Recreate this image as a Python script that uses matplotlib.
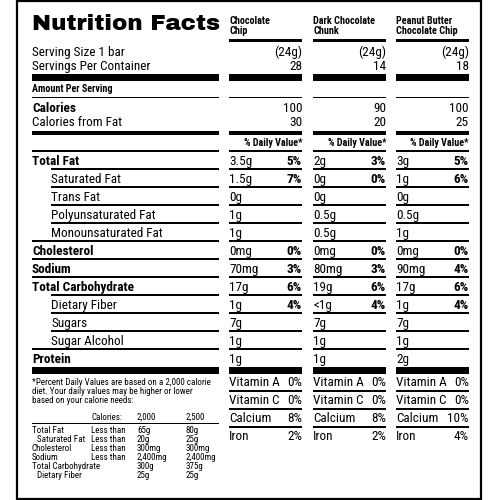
import matplotlib
matplotlib.use("Agg")
import matplotlib.pyplot as plt
from matplotlib import font_manager as fm
from matplotlib.patches import Rectangle

# label data
products = ["Chocolate\nChip", "Dark Chocolate\nChunk", "Peanut Butter\nChocolate Chip"]
serving_size = ["(24g)", "(24g)", "(24g)"]
servings = ["28", "14", "18"]
calories = ["100", "90", "100"]
calories_fat = ["30", "20", "25"]

nutrients = ["Total Fat", "Saturated Fat", "Trans Fat", "Polyunsaturated Fat",
             "Monounsaturated Fat", "Cholesterol", "Sodium", "Total Carbohydrate",
             "Dietary Fiber", "Sugars", "Sugar Alcohol", "Protein"]
main_row = [True, False, False, False, False, True, True, True, False, False, False, True]
amounts = [
    ["3.5g", "1.5g", "0g", "1g", "1g", "0mg", "70mg", "17g", "1g", "7g", "1g", "1g"],
    ["2g", "0g", "0g", "0.5g", "0.5g", "0mg", "80mg", "19g", "<1g", "7g", "1g", "1g"],
    ["3g", "1g", "0g", "0.5g", "1g", "0mg", "90mg", "17g", "1g", "7g", "1g", "2g"],
]
daily = [
    ["5%", "7%", "", "", "", "0%", "3%", "6%", "4%", "", "", ""],
    ["3%", "0%", "", "", "", "0%", "3%", "6%", "4%", "", "", ""],
    ["5%", "6%", "", "", "", "0%", "4%", "6%", "4%", "", "", ""],
]
vitamins = ["Vitamin A", "Vitamin C", "Calcium", "Iron"]
vitamin_dv = [["0%", "0%", "8%", "2%"],
              ["0%", "0%", "8%", "2%"],
              ["0%", "0%", "10%", "4%"]]

footnote = ["*Percent Daily Values are based on a 2,000 calorie",
            "diet. Your daily values may be higher or lower",
            "based on your calorie needs:"]
ref_header = ["Calories:", "2,000", "2,500"]
ref_items = ["Total Fat", "Saturated Fat", "Cholesterol", "Sodium",
             "Total Carbohydrate", "Dietary Fiber"]
ref_indent = [False, True, False, False, False, True]
ref_limit = ["Less than", "Less than", "Less than", "Less than", "", ""]
ref_2000 = ["65g", "20g", "300mg", "2,400mg", "300g", "25g"]
ref_2500 = ["80g", "25g", "300mg", "2,400mg", "375g", "25g"]

# fonts: a Helvetica-like narrow face for the body, a black face for the title
names = {f.name for f in fm.fontManager.ttflist}
narrow = next((n for n in ["Nimbus Sans Narrow", "Liberation Sans Narrow", "Roboto Condensed"]
               if n in names), "DejaVu Sans")
heavy = next((n for n in ["Archivo Black", "DejaVu Sans"] if n in names), "DejaVu Sans")

fig = plt.figure(figsize=(5, 5), dpi=100)
ax = fig.add_axes([0, 0, 1, 1])
ax.set_xlim(0, 500)
ax.set_ylim(500, 0)
ax.axis("off")


def rule(x0, x1, y, h):
    ax.add_patch(Rectangle((x0, y - h / 2), x1 - x0, h, color="black", lw=0))


def txt(x, y, s, size=9.5, bold=False, ha="left", family=None):
    return ax.text(x, y, s, fontsize=size, fontweight="bold" if bold else "normal",
                   ha=ha, va="baseline", family=family or narrow, color="black")


# outer border
ax.add_patch(Rectangle((17, 0.7), 464, 497.8, fill=False, ec="black", lw=1.6))

L0, L1 = 32, 219
col_left = [229, 313, 396]
col_w = 73

# title, scaled to span the left block
title = txt(L0, 29.5, "Nutrition Facts", size=15, bold=True, family=heavy)
fig.canvas.draw()
w = title.get_window_extent().width
title.set_fontsize(15 * (L1 - L0) / w)

txt(L0, 56, "Serving Size 1 bar")
txt(L0, 70, "Servings Per Container")
txt(L0, 92.5, "Amount Per Serving", size=7.2, bold=True)
txt(L0, 111.5, "Calories", bold=True)
txt(L0, 126.5, "Calories from Fat")

# left rules
rule(L0, L1, 77.5, 7)
rule(L0, L1, 97.3, 1.2)
rule(L0, L1, 132.5, 4)
rule(L0, L1, 151, 1.2)

row_top = 151
row_h = 18
for i, name in enumerate(nutrients):
    y = row_top + i * row_h
    indent = 0 if main_row[i] else 19
    txt(L0 + indent, y + 14, name, bold=main_row[i])
    if i < len(nutrients) - 1:
        nxt = 0 if main_row[i + 1] else 19
        rule(L0 + nxt, L1, y + row_h, 1.2)
bar_y = row_top + len(nutrients) * row_h
rule(L0, L1, bar_y + 3, 7)

# per-product columns
for c in range(3):
    x0 = col_left[c]
    x1 = x0 + col_w
    head = products[c].split("\n")
    txt(x0, 24.5, head[0], size=7.3, bold=True)
    txt(x0, 34, head[1], size=7.3, bold=True)
    rule(x0, x1, 40.5, 3)
    txt(x1, 56, serving_size[c], ha="right")
    txt(x1, 70, servings[c], ha="right")
    rule(x0, x1, 77.5, 7)
    rule(x0, x1, 97.3, 1.2)
    txt(x1, 111.5, calories[c], ha="right")
    txt(x1, 126.5, calories_fat[c], ha="right")
    rule(x0, x1, 132.5, 4)
    txt(x1, 146.5, "% Daily Value*", size=7.2, bold=True, ha="right")
    rule(x0, x1, 151, 1.2)
    for i in range(len(nutrients)):
        y = row_top + i * row_h
        txt(x0, y + 14, amounts[c][i])
        if daily[c][i]:
            txt(x1, y + 14, daily[c][i], bold=True, ha="right")
        if i < len(nutrients) - 1:
            rule(x0, x1, y + row_h, 1.2)
    rule(x0, x1, bar_y + 3, 7)
    for j, v in enumerate(vitamins):
        y = bar_y + 6 + j * row_h
        txt(x0, y + 13.5, v)
        txt(x1, y + 13.5, vitamin_dv[c][j], ha="right")
        if j < len(vitamins) - 1:
            rule(x0, x1, y + row_h, 1.2)

# footnote and reference table
for k, line in enumerate(footnote):
    txt(L0, 385 + k * 9, line, size=6.5)
ref_x = [91, 137, 186]
for x, s in zip(ref_x, ref_header):
    txt(x, 420, s, size=6.5)
rule(L0, L1, 423.5, 1.2)
for k, item in enumerate(ref_items):
    y = 433 + k * 9
    txt(L0 + (5 if ref_indent[k] else 0), y, item, size=6.5)
    if ref_limit[k]:
        txt(ref_x[0], y, ref_limit[k], size=6.5)
    txt(ref_x[1], y, ref_2000[k], size=6.5)
    txt(ref_x[2], y, ref_2500[k], size=6.5)

fig.savefig("out.png", dpi=100)
